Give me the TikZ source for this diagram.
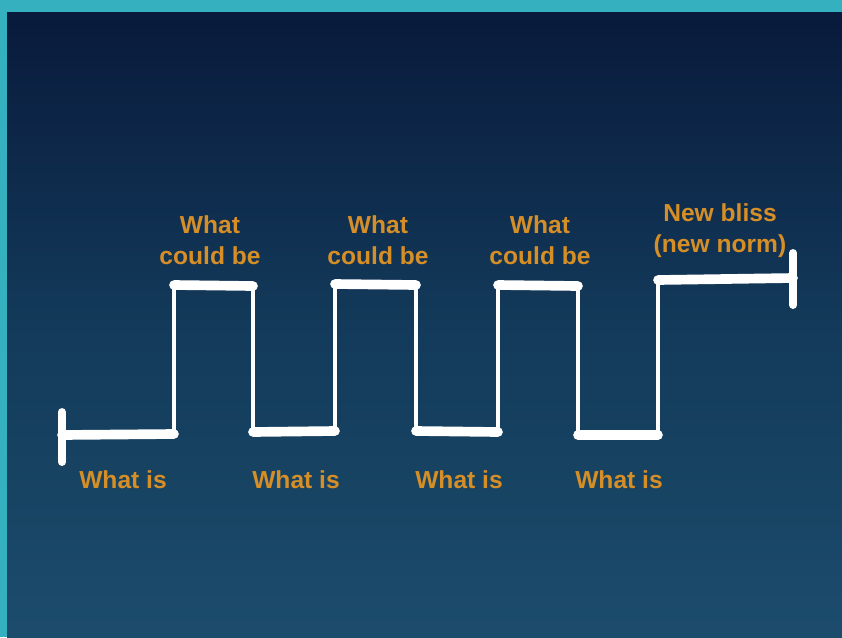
\documentclass[tikz,border=0pt]{standalone}
\usepackage{fontspec}
\setmainfont{Liberation Sans}
\usetikzlibrary{positioning}
\definecolor{frameteal}{RGB}{52,176,190}
\definecolor{boardtop}{RGB}{9,26,60}
\definecolor{boardmid}{RGB}{19,58,90}
\definecolor{boardbottom}{RGB}{28,76,108}
\definecolor{chalkorange}{RGB}{214,142,38}
\tikzset{
  flat/.style={draw=white, line width=5.5pt, line cap=round},
  riser/.style={draw=white, line width=2.4pt, line cap=round},
  endbar/.style={draw=white, line width=4.5pt, line cap=round},
  caption/.style={
    text=chalkorange,
    font=\fontsize{14}{17.6}\selectfont\bfseries,
    align=center,
    inner sep=0pt,
    anchor=north},
}

\begin{document}
\begin{tikzpicture}[x=0.02cm, y=-0.02cm]
  % frame and board
  \fill[frameteal] (0,0) rectangle (842,637);
  \shade[top color=boardtop, bottom color=boardbottom, middle color=boardmid]
    (7,12) rectangle (842,637);
  \useasboundingbox (0,0) rectangle (842,637);

  % corners of the wave
  \coordinate (lo1s) at (62,435);  \coordinate (lo1e) at (174,434);
  \coordinate (hi1s) at (174,285); \coordinate (hi1e) at (253,286);
  \coordinate (lo2s) at (253,432); \coordinate (lo2e) at (335,431);
  \coordinate (hi2s) at (335,284); \coordinate (hi2e) at (416,285);
  \coordinate (lo3s) at (416,431); \coordinate (lo3e) at (498,432);
  \coordinate (hi3s) at (498,285); \coordinate (hi3e) at (578,286);
  \coordinate (lo4s) at (578,435); \coordinate (lo4e) at (658,435);
  \coordinate (hi4s) at (658,280); \coordinate (hi4e) at (793,278);

  % end bars
  \coordinate (startTop) at (62,412); \coordinate (startBot) at (62,462);
  \coordinate (endTop) at (793,253);  \coordinate (endBot) at (793,305);
  \draw[endbar] (startTop) -- (startBot);
  \draw[endbar] (endTop) -- (endBot);

  % flat parts
  \draw[flat] (lo1s) -- (lo1e);
  \draw[flat] (hi1s) -- (hi1e);
  \draw[flat] (lo2s) -- (lo2e);
  \draw[flat] (hi2s) -- (hi2e);
  \draw[flat] (lo3s) -- (lo3e);
  \draw[flat] (hi3s) -- (hi3e);
  \draw[flat] (lo4s) -- (lo4e);
  \draw[flat] (hi4s) -- (hi4e);

  % steps up and down
  \draw[riser] (lo1e) -- (hi1s);
  \draw[riser] (hi1e) -- (lo2s);
  \draw[riser] (lo2e) -- (hi2s);
  \draw[riser] (hi2e) -- (lo3s);
  \draw[riser] (lo3e) -- (hi3s);
  \draw[riser] (hi3e) -- (lo4s);
  \draw[riser] (lo4e) -- (hi4s);

  % labels
  \node[caption] (is1) at (123,470) {What is};
  \node[caption] (is2) at (296,470) {What is};
  \node[caption] (is3) at (459,470) {What is};
  \node[caption] (is4) at (619,470) {What is};
  \node[caption] (could1) at (210,215) {What\\could be};
  \node[caption] (could2) at (378,215) {What\\could be};
  \node[caption] (could3) at (540,215) {What\\could be};
  \node[caption] (bliss) at (720,203) {New bliss\\(new norm)};
\end{tikzpicture}
\end{document}
